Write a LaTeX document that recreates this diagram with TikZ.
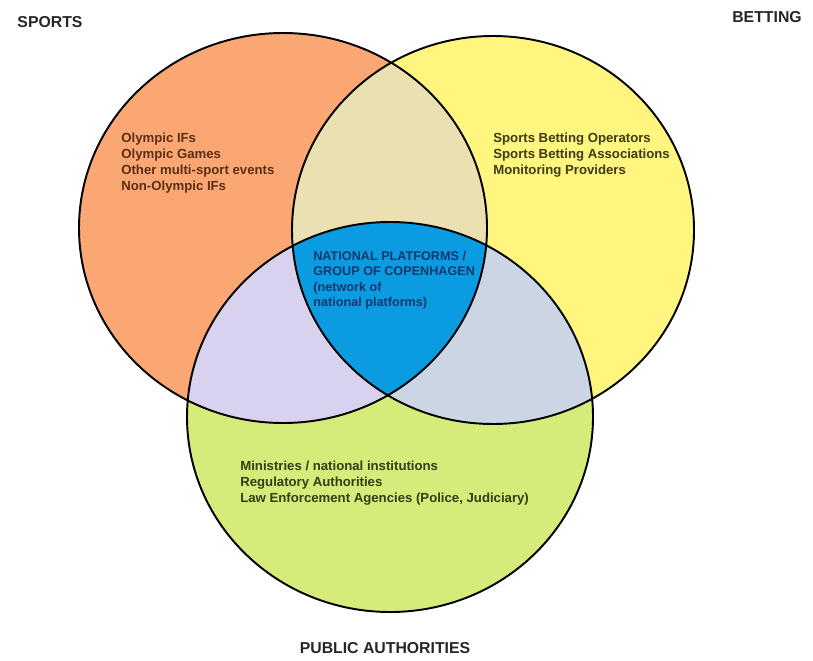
\documentclass[tikz,border=0pt]{standalone}
\usepackage{fontspec}
\setmainfont{Liberation Sans}
\usetikzlibrary{positioning}
\definecolor{sportscol}{HTML}{FAA774}
\definecolor{bettingcol}{HTML}{FFF57F}
\definecolor{publiccol}{HTML}{D5EC7A}
\definecolor{tancol}{HTML}{EBE0B2}
\definecolor{lavcol}{HTML}{D9D2EE}
\definecolor{steelcol}{HTML}{CBD5E3}
\definecolor{centrecol}{HTML}{0A9BE0}
\definecolor{sportstext}{HTML}{5A2E14}
\definecolor{bettingtext}{HTML}{3C3C10}
\definecolor{publictext}{HTML}{2E3E10}
\definecolor{centretext}{HTML}{13386E}
\newcommand{\sportsset}{(283,432) ellipse [x radius=204, y radius=195]}
\newcommand{\bettingset}{(493,430) ellipse [x radius=201, y radius=194]}
\newcommand{\publicset}{(390,243) ellipse [x radius=203, y radius=195]}

\begin{document}
\begin{tikzpicture}[x=0.02cm,y=0.02cm,
    set/.style={draw=black,line width=1.1pt},
    head/.style={font=\fontsize{9}{10}\selectfont\bfseries,text=black!85},
    list/.style={anchor=north west,align=left,inner sep=0pt,
      font=\fontsize{7.5}{9}\selectfont\bfseries}]
  \useasboundingbox (0,0) rectangle (813,660);
  % the three sets
  \fill[sportscol] \sportsset;
  \fill[bettingcol] \bettingset;
  \fill[publiccol] \publicset;
  % overlaps
  \begin{scope}
    \clip \sportsset;
    \fill[tancol] \bettingset;
    \fill[lavcol] \publicset;
  \end{scope}
  \begin{scope}
    \clip \bettingset;
    \fill[steelcol] \publicset;
  \end{scope}
  \begin{scope}
    \clip \sportsset;
    \clip \bettingset;
    \fill[centrecol] \publicset;
  \end{scope}
  \path[set] \sportsset \bettingset \publicset;
  % headings
  \node[head] (sports) at (50,638) {SPORTS};
  \node[head] (betting) at (767,643) {BETTING};
  \node[head] (public) at (385,12) {PUBLIC AUTHORITIES};
  % members
  \node[list,text=sportstext] (sportslist) at (121,527)
    {Olympic IFs\\Olympic Games\\Other multi-sport events\\Non-Olympic IFs};
  \node[list,text=bettingtext] (bettinglist) at (493,527)
    {Sports Betting Operators\\Sports Betting Associations\\Monitoring Providers};
  \node[list,text=centretext,font=\fontsize{7.2}{8.7}\selectfont\bfseries]
    (centrelist) at (313,409)
    {NATIONAL PLATFORMS /\\GROUP OF COPENHAGEN\\(network of\\national platforms)};
  \node[list,text=publictext] (publiclist) at (240,199)
    {Ministries / national institutions\\Regulatory Authorities\\Law Enforcement Agencies (Police, Judiciary)};
\end{tikzpicture}
\end{document}
